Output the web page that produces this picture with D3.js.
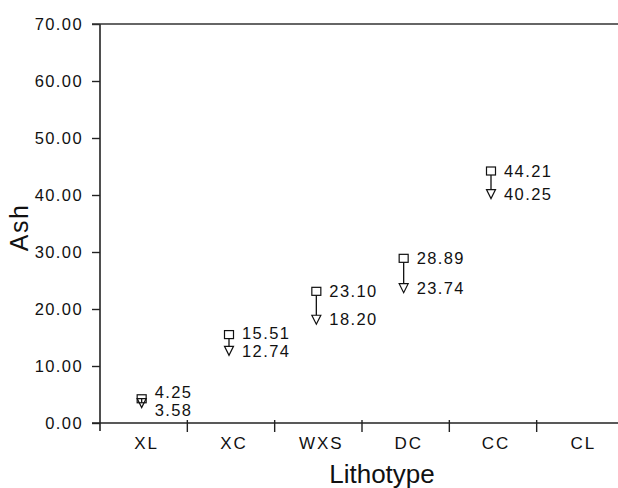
<!DOCTYPE html>
<html>
<head>
<meta charset="utf-8">
<script src="https://cdn.jsdelivr.net/npm/d3@7"></script>
<style>
  body { margin: 0; background: #fff; }
  text { font-family: "Liberation Sans", Arial, sans-serif; fill: #111; }
  .axis path, .axis line { stroke: #222; stroke-width: 1.4; }
</style>
</head>
<body>
<script>
// data
let lithotypes = ['XL', 'XC', 'WXS', 'DC', 'CC', 'CL']
let ashBefore = [4.25, 15.51, 23.10, 28.89, 44.21, null]
let ashAfter = [3.58, 12.74, 18.20, 23.74, 40.25, null]
let yTicks = [0, 10, 20, 30, 40, 50, 60, 70]

let width = 618
let height = 488
const margin = { top: 24, right: -6, bottom: 65, left: 100 };

let svg = d3.select('body').append('svg')
    .attr('width', width)
    .attr('height', height)

let x = d3.scaleBand().domain(lithotypes).range([margin.left, width - margin.right])
let y = d3.scaleLinear().domain([0, 70]).range([height - margin.bottom, margin.top])

// y axis
let yAxis = svg.append('g').attr('class', 'axis')
    .attr('transform', `translate(${margin.left},0)`)
    .call(d3.axisLeft(y).tickValues(yTicks).tickFormat(d3.format('.2f')).tickSize(8).tickPadding(9).tickSizeOuter(0))
yAxis.select('.domain').remove()
yAxis.selectAll('text')
    .style('font-size', '16.5px')
    .style('letter-spacing', '1.4px')
svg.append('line')
    .attr('x1', margin.left).attr('x2', margin.left)
    .attr('y1', y(70)).attr('y2', y(0) + 8)
    .attr('stroke', '#222').attr('stroke-width', 1.6)

// top frame line
svg.append('line')
    .attr('x1', margin.left - 8).attr('x2', width)
    .attr('y1', y(70)).attr('y2', y(70))
    .attr('stroke', '#333').attr('stroke-width', 1.4)

// x axis: ticks at band edges
let xg = svg.append('g').attr('class', 'axis')
svg.append('line')
    .attr('x1', margin.left - 8).attr('x2', width)
    .attr('y1', y(0)).attr('y2', y(0))
    .attr('stroke', '#222').attr('stroke-width', 1.4)
xg.selectAll('line.edge').data(lithotypes.slice(1))
    .join('line')
    .attr('class', 'edge')
    .attr('x1', d => x(d)).attr('x2', d => x(d))
    .attr('y1', y(0) - 3).attr('y2', y(0) + 9)
xg.selectAll('text').data(lithotypes)
    .join('text')
    .attr('x', d => x(d) + x.bandwidth() / 2 + 3)
    .attr('y', y(0) + 26)
    .attr('text-anchor', 'middle')
    .style('font-size', '17px')
    .style('letter-spacing', '2px')
    .text(d => d)

// axis titles
svg.append('text')
    .attr('x', 382).attr('y', 483)
    .attr('text-anchor', 'middle')
    .style('font-size', '26px')
    .text('Lithotype')
svg.append('text')
    .attr('transform', `translate(28,${(y(0) + y(70)) / 2 + 4}) rotate(-90)`)
    .attr('text-anchor', 'middle')
    .style('font-size', '25px')
    .style('letter-spacing', '1.5px')
    .text('Ash')

// markers
let rows = lithotypes.map((d, i) => ({ cat: d, top: ashBefore[i], bot: ashAfter[i] }))
    .filter(d => d.top != null)
let cx = d => x(d.cat) + x.bandwidth() / 2 - 2
let plot = svg.append('g')

plot.selectAll('line.stem').data(rows)
    .join('line')
    .attr('class', 'stem')
    .attr('x1', cx).attr('x2', cx)
    .attr('y1', d => y(d.top) + 4).attr('y2', d => y(d.bot) - 4)
    .attr('stroke', '#111').attr('stroke-width', 1.3)

plot.selectAll('rect').data(rows)
    .join('rect')
    .attr('x', d => cx(d) - 4.5).attr('y', d => y(d.top) - 4)
    .attr('width', 9).attr('height', 8)
    .attr('fill', 'none').attr('stroke', '#111').attr('stroke-width', 1.2)

plot.selectAll('path.tri').data(rows)
    .join('path')
    .attr('class', 'tri')
    .attr('d', d => {
        let px = cx(d), py = y(d.bot)
        return `M${px - 4.5},${py - 4}L${px + 4.5},${py - 4}L${px},${py + 5}Z`
    })
    .attr('fill', 'none').attr('stroke', '#111').attr('stroke-width', 1.2)

// value labels, pushed apart when they crowd
let minGap = 18
rows.forEach(d => {
    let a = y(d.top), b = y(d.bot)
    if (b - a < minGap) {
        let mid = (a + b) / 2
        a = mid - minGap / 2
        b = mid + minGap / 2
    }
    d.ly1 = a
    d.ly2 = b
})
plot.selectAll('text.v1').data(rows)
    .join('text')
    .attr('class', 'v1')
    .attr('x', d => cx(d) + 13).attr('y', d => d.ly1)
    .attr('dy', '0.36em')
    .style('font-size', '16.5px')
    .style('letter-spacing', '1.4px')
    .text(d => d.top.toFixed(2))
plot.selectAll('text.v2').data(rows)
    .join('text')
    .attr('class', 'v2')
    .attr('x', d => cx(d) + 13).attr('y', d => d.ly2)
    .attr('dy', '0.36em')
    .style('font-size', '16.5px')
    .style('letter-spacing', '1.4px')
    .text(d => d.bot.toFixed(2))
</script>
</body>
</html>
